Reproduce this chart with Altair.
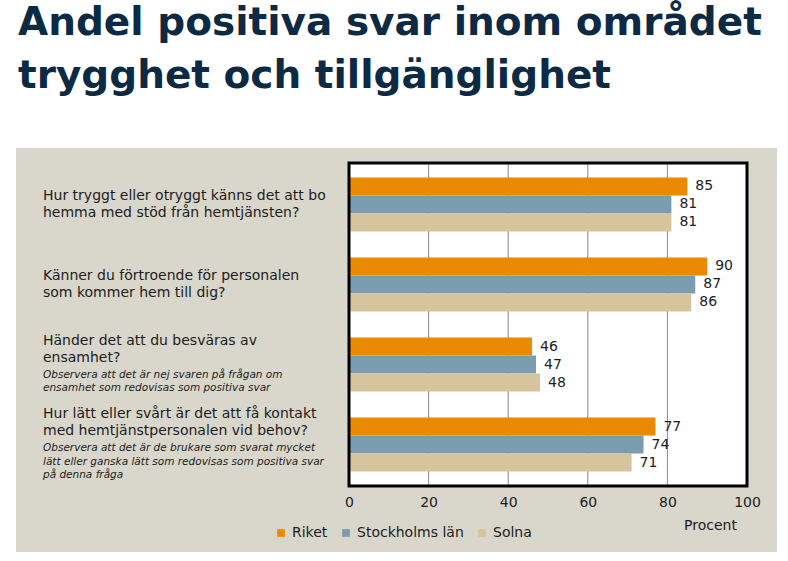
import altair as alt
import pandas as pd

# ---------------- data ----------------
q_ids = ["Q1", "Q2", "Q3", "Q4"]
question_lines = [
    ["Hur tryggt eller otryggt känns det att bo", "hemma med stöd från hemtjänsten?"],
    ["Känner du förtroende för personalen", "som kommer hem till dig?"],
    ["Händer det att du besväras av", "ensamhet?"],
    ["Hur lätt eller svårt är det att få kontakt", "med hemtjänstpersonalen vid behov?"],
]
note_lines = [
    [],
    [],
    ["Observera att det är nej svaren på frågan om",
     "ensamhet som redovisas som positiva svar"],
    ["Observera att det är de brukare som svarat mycket",
     "lätt eller ganska lätt som redovisas som positiva svar",
     "på denna fråga"],
]
series = ["Riket", "Stockholms län", "Solna"]
riket = [85, 90, 46, 77]
stockholm = [81, 87, 47, 74]
solna = [81, 86, 48, 71]
x_ticks = [0, 20, 40, 60, 80, 100]
grid_ticks = [20, 40, 60, 80]
title_lines = ["Andel positiva svar inom området", "trygghet och tillgänglighet"]
colors = ["#EA8A00", "#7B9BAE", "#D5C49C"]

# ---------------- layout ----------------
W, H = 398, 323
P_IN, P_OUT = 0.325, 0.18
step = H / (len(q_ids) - P_IN + 2 * P_OUT)
half_band = step * (1 - P_IN) / 2

# ---------------- tables ----------------
rows = []
for s, vals in zip(series, [riket, stockholm, solna]):
    for q, v in zip(q_ids, vals):
        rows.append({"q": q, "series": s, "value": v})
bars_df = pd.DataFrame(rows)

MAIN_LH, NOTE_LH, GAP = 17, 13.5, 17
text_rows = []
for q, mains, notes in zip(q_ids, question_lines, note_lines):
    centers = [i * MAIN_LH for i in range(len(mains))]
    last = centers[-1]
    ncent = [last + GAP + j * NOTE_LH for j in range(len(notes))]
    allc = centers + ncent
    mid = (allc[0] + allc[-1]) / 2
    for t, c in zip(mains, centers):
        text_rows.append({"q": q, "text": t, "style": "main", "off": c - mid + half_band})
    for t, c in zip(notes, ncent):
        text_rows.append({"q": q, "text": t, "style": "note", "off": c - mid + half_band})
text_df = pd.DataFrame(text_rows)
grid_df = pd.DataFrame({"value": grid_ticks})
one = pd.DataFrame({"a": [0]})

FONT = "DejaVu Sans"
TXT = "#1c1c1c"

x_axis = alt.Axis(values=x_ticks, grid=False, domain=False, ticks=False, zindex=1,
                  labelFlush=False, labelBound=False,
                  labelFontSize=14, labelFont=FONT, labelColor=TXT, labelPadding=9,
                  title="Procent", titleFont=FONT, titleFontSize=14, titleFontWeight="normal",
                  titleColor=TXT, titleAlign="center", titleX=361, titleY=39,
                  titleBaseline="middle", titleAnchor="start")
x_enc = alt.X("value:Q", scale=alt.Scale(domain=[0, 100], nice=False), axis=x_axis)
y_scale = alt.Scale(domain=q_ids, paddingInner=P_IN, paddingOuter=P_OUT)
y_enc = alt.Y("q:N", scale=y_scale, axis=None)
yoff_series = alt.YOffset("series:N", scale=alt.Scale(type="band", domain=series,
                                                      paddingInner=0, paddingOuter=0))

panel = alt.Chart(one).mark_rect(color="#D9D6CC").encode(
    x=alt.value(-333), x2=alt.value(428), y=alt.value(-15), y2=alt.value(389))
plotbg = alt.Chart(one).mark_rect(color="white").encode(
    x=alt.value(0), x2=alt.value(W), y=alt.value(0), y2=alt.value(H))
grid = alt.Chart(grid_df).mark_rule(color="#8a8a8a", strokeWidth=1).encode(x=x_enc)
bars = alt.Chart(bars_df).mark_bar().encode(
    x=x_enc, y=y_enc, yOffset=yoff_series,
    color=alt.Color("series:N",
                    scale=alt.Scale(domain=series, range=colors),
                    legend=alt.Legend(orient="none", legendX=-75, legendY=363,
                                      direction="horizontal", title=None,
                                      symbolType="square", symbolSize=60,
                                      symbolStrokeWidth=0, labelFontSize=14,
                                      labelFont=FONT, labelColor=TXT,
                                      columnPadding=11, labelOffset=4)),
)
labels = alt.Chart(bars_df).mark_text(align="left", baseline="middle", dx=8,
                                      fontSize=14, font=FONT, color=TXT).encode(
    x=x_enc, y=y_enc, yOffset=yoff_series, text="value:Q")
barlayer = alt.layer(bars, labels)
border = alt.Chart(one).mark_rect(fill=None, stroke="black", strokeWidth=3).encode(
    x=alt.value(0), x2=alt.value(W), y=alt.value(0), y2=alt.value(H))

qmain = alt.Chart(text_df).transform_filter(alt.datum.style == "main").mark_text(
    align="left", baseline="middle", fontSize=14, font=FONT, color=TXT).encode(
    x=alt.value(-306), y=y_enc,
    yOffset=alt.YOffset("off:Q", scale=None), text="text:N")
qnote = alt.Chart(text_df).transform_filter(alt.datum.style == "note").mark_text(
    align="left", baseline="middle", fontSize=10.5, font=FONT, fontStyle="italic",
    color=TXT).encode(
    x=alt.value(-306), y=y_enc,
    yOffset=alt.YOffset("off:Q", scale=None), text="text:N")

title = alt.Chart(one).mark_text(
    text="\n".join(title_lines), lineBreak="\n", lineHeight=53, align="left",
    baseline="alphabetic", fontSize=39, fontWeight="bold", font=FONT,
    color="#0C2A44").encode(x=alt.value(-331), y=alt.value(-128))

chart = alt.layer(panel, plotbg, grid, barlayer, border, qmain, qnote, title).resolve_scale(
    yOffset="independent"
).properties(
    width=W, height=H,
    autosize=alt.AutoSizeParams(type="none"),
    padding={"left": 349, "top": 163, "right": 41, "bottom": 75},
    background="white",
).configure_view(stroke=None)

chart.save("out.html", embed_options={"renderer": "svg", "actions": False})
